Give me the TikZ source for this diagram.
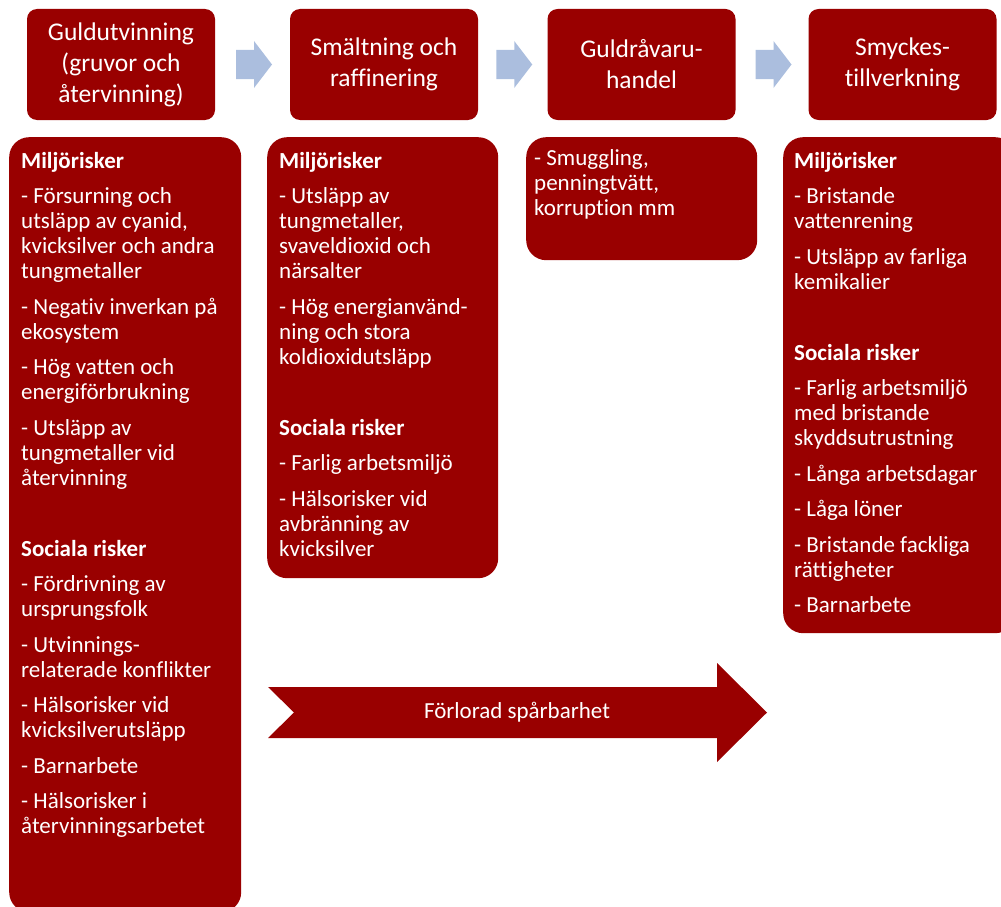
\documentclass[tikz,border=0pt]{standalone}
\usepackage{fontspec}
\setmainfont{Carlito}[Ligatures=CommonOff]
\usetikzlibrary{positioning}
\usetikzlibrary{calc}
\definecolor{riskred}{RGB}{153,0,0}
\definecolor{flowblue}{RGB}{171,190,222}

\begin{document}
\begin{tikzpicture}[x=1pt, y=-1pt,
  stage/.style={fill=riskred, text=white, rounded corners=10pt, minimum width=188pt,
                minimum height=111pt, align=center, font=\fontsize{25.5}{31}\selectfont},
  riskbox/.style={fill=riskred, rounded corners=20pt, anchor=north west, inner sep=0pt},
  risktext/.style={text=white, anchor=north west, inner sep=0pt, align=left,
                   font=\fontsize{23}{25}\selectfont}]
\useasboundingbox (0,0) rectangle (1001,907);
\node[stage] (guld)   at (121,64.5)   {Guldutvinning\\(gruvor och\\återvinning)};
\node[stage] (smalt)  at (384,64.5)   {Smältning och\\raffinering};
\node[stage] (handel) at (641.5,64.5) {Guldråvaru-\\handel};
\node[stage] (smycke) at (902.5,64.5) {Smyckes-\\tillverkning};
\foreach \a/\b in {guld/smalt, smalt/handel, handel/smycke}
  \fill[flowblue] ($(\a.east)!.5!(\b.west)$) ++(-16.5,-14.5) -- ++(18,0) -- ++(0,-9)
    -- ++(18,23.5) -- ++(-18,23.5) -- ++(0,-9) -- ++(-18,0) -- cycle;
\node[riskbox, minimum width=232pt, minimum height=775pt] (risk1) at (9,137) {};
\node[riskbox, minimum width=231pt, minimum height=441pt] (risk2) at (267,137) {};
\node[riskbox, minimum width=231pt, minimum height=123pt] (risk3) at (526,137) {};
\node[riskbox, minimum width=232pt, minimum height=496pt] (risk4) at (783,137) {};
\node[risktext] (text1) at ($(risk1.north west)+(12,15)$) {\textbf{Miljörisker}\\[10.5pt]
  - Försurning och\\utsläpp av cyanid,\\kvicksilver och andra\\tungmetaller\\[10.5pt]
  - Negativ inverkan på\\ekosystem\\[10.5pt]
  - Hög vatten och\\energiförbrukning\\[10.5pt]
  - Utsläpp av\\tungmetaller vid\\återvinning\\[46pt]
  \textbf{Sociala risker}\\[10.5pt]
  - Fördrivning av\\ursprungsfolk\\[10.5pt]
  - Utvinnings-\\relaterade konflikter\\[10.5pt]
  - Hälsorisker vid\\kvicksilverutsläpp\\[10.5pt]
  - Barnarbete\\[10.5pt]
  - Hälsorisker i\\återvinningsarbetet};
\node[risktext] (text2) at ($(risk2.north west)+(12,15)$) {\textbf{Miljörisker}\\[10.5pt]
  - Utsläpp av\\tungmetaller,\\svaveldioxid och\\närsalter\\[10.5pt]
  - Hög energianvänd-\\ning och stora\\koldioxidutsläpp\\[46pt]
  \textbf{Sociala risker}\\[10.5pt]
  - Farlig arbetsmiljö\\[10.5pt]
  - Hälsorisker vid\\avbränning av\\kvicksilver};
\node[risktext] (text3) at ($(risk3.north west)+(8,12)$) {- Smuggling,\\penningtvätt,\\korruption mm};
\node[risktext] (text4) at ($(risk4.north west)+(11,15)$) {\textbf{Miljörisker}\\[10.5pt]
  - Bristande\\vattenrening\\[10.5pt]
  - Utsläpp av farliga\\kemikalier\\[46pt]
  \textbf{Sociala risker}\\[10.5pt]
  - Farlig arbetsmiljö\\med bristande\\skyddsutrustning\\[10.5pt]
  - Långa arbetsdagar\\[10.5pt]
  - Låga löner\\[10.5pt]
  - Bristande fackliga\\rättigheter\\[10.5pt]
  - Barnarbete};
\fill[riskred] (268,687) coordinate (tail) -- ++(449,0) -- ++(0,-24) -- ++(50,49.5)
  -- ++(-50,49.5) -- ++(0,-24) -- ++(-449,0) -- ++(26,-25.5) -- cycle;
\node[text=white, font=\fontsize{23}{25}\selectfont] (spar) at (517,712) {Förlorad spårbarhet};
\end{tikzpicture}
\end{document}
